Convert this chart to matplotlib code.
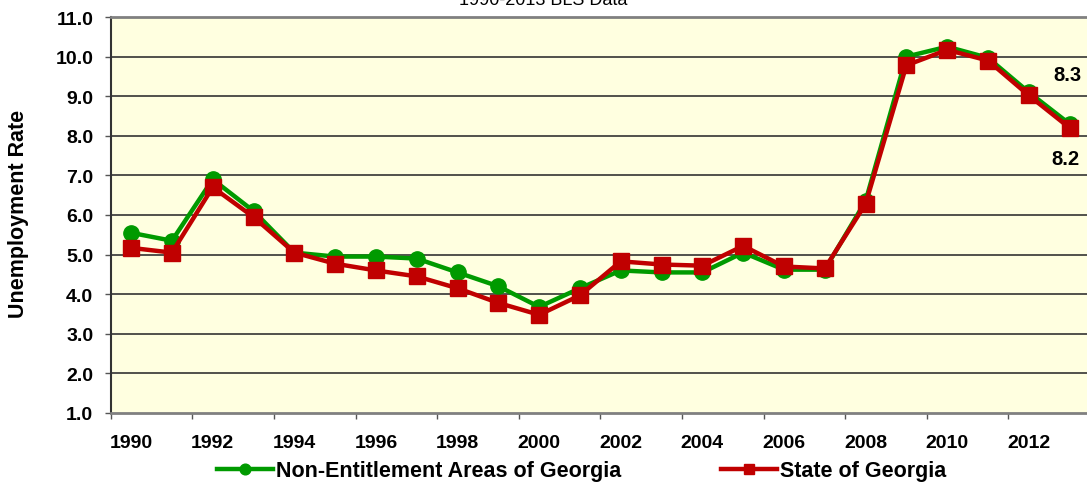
import matplotlib
matplotlib.use("Agg")
import matplotlib.pyplot as plt
import numpy as np

years = list(range(1990, 2014))
non_entitlement = [5.55, 5.35, 6.9, 6.1, 5.05, 4.95, 4.95, 4.9, 4.55, 4.2, 3.68, 4.15,
                   4.6, 4.55, 4.55, 5.05, 4.62, 4.62, 6.35, 10.0, 10.25, 9.97, 9.1, 8.3]
state = [5.17, 5.05, 6.7, 5.95, 5.05, 4.77, 4.6, 4.45, 4.15, 3.78, 3.48, 3.97,
         4.83, 4.75, 4.72, 5.22, 4.7, 4.65, 6.28, 9.78, 10.17, 9.9, 9.02, 8.2]
series_names = ["Non-Entitlement Areas of Georgia", "State of Georgia"]
ytick_vals = [1.0, 2.0, 3.0, 4.0, 5.0, 6.0, 7.0, 8.0, 9.0, 10.0, 11.0]
title = "1990-2013 BLS Data"
ylabel = "Unemployment Rate"

plt.rcParams['font.family'] = ['Liberation Sans', 'DejaVu Sans']

W, H = 1087, 489
fig = plt.figure(figsize=(W / 100, H / 100), dpi=100)
ax = fig.add_axes([110.7 / W, 1 - 414 / H, (1090 - 110.7) / W, (414 - 18) / H])
ax.set_facecolor('#FFFFE0')

x = np.arange(len(years))
green = '#009A00'
red = '#C00000'
ax.plot(x, non_entitlement, color=green, lw=3.2, marker='o', ms=11,
        mec=green, mfc=green, label=series_names[0], zorder=3, clip_on=False)
ax.plot(x, state, color=red, lw=3.2, marker='s', ms=11,
        mec=red, mfc=red, label=series_names[1], zorder=4, clip_on=False)

ax.set_xlim(-0.5, len(years) - 0.5)
ax.set_ylim(1, 11)

ax.set_yticks(ytick_vals)
ax.set_yticklabels([f"{v:.1f}" for v in ytick_vals], fontsize=14, fontweight='bold')
for v in ytick_vals[1:-1]:
    ax.axhline(v, color='#333333', lw=1.2, zorder=1)

ax.set_xticks(x[::2])
ax.set_xticklabels([str(y) for y in years[::2]], fontsize=14, fontweight='bold')
ax.set_xticks(np.arange(-0.5, len(years), 2), minor=True)
ax.tick_params(axis='x', which='major', length=0, pad=15)
ax.tick_params(axis='x', which='minor', length=4.5, width=1, color='#555555', direction='out')
ax.tick_params(axis='y', length=4.5, width=1, color='#555555', direction='out', pad=8)

for side in ['top', 'bottom']:
    ax.spines[side].set_color('#808080')
    ax.spines[side].set_linewidth(2)
ax.spines['left'].set_color('#333333')
ax.spines['left'].set_linewidth(1.5)
ax.spines['right'].set_visible(False)

fig.text(19 / W, 1 - 214 / H, ylabel, rotation=90, ha='center', va='center',
         fontsize=15.5, fontweight='bold')
fig.text(0.5, 1 - 5 / H, title, ha='center', va='baseline', fontsize=13)

ax.annotate(f"{non_entitlement[-1]:.1f}", xy=(x[-1], non_entitlement[-1]), xytext=(12, 49),
            textcoords='offset pixels', ha='right', va='center', fontsize=14.5, fontweight='bold')
ax.annotate(f"{state[-1]:.1f}", xy=(x[-1], state[-1]), xytext=(10, -31),
            textcoords='offset pixels', ha='right', va='center', fontsize=14.5, fontweight='bold')

leg = fig.legend(loc='center', bbox_to_anchor=(0.535, 1 - 472 / H), ncol=2, frameon=False,
                 prop={'size': 15.5, 'weight': 'bold'}, handlelength=2.6, columnspacing=4.6,
                 handletextpad=0.15, markerscale=0.7)

fig.savefig('out.png', dpi=100)
